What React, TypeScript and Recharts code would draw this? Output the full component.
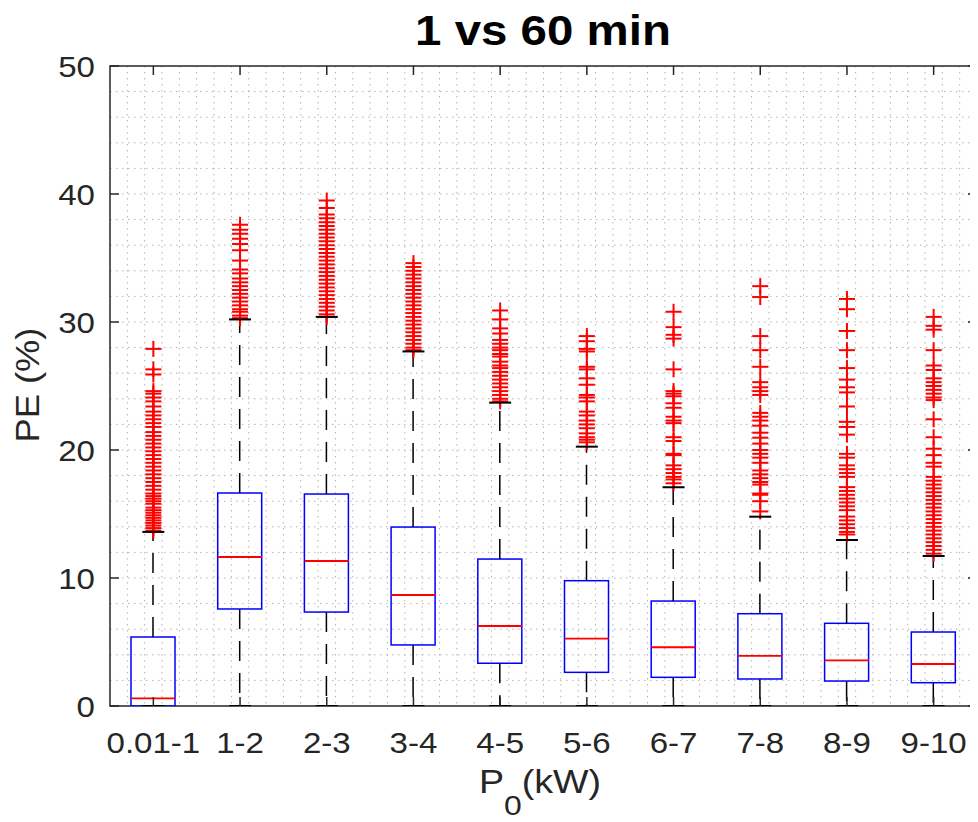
import React from 'react';
import { ComposedChart, Bar, Line, XAxis, YAxis, CartesianGrid, ReferenceArea } from 'recharts';

// ---------- data ----------
const categories = ['0.01-1', '1-2', '2-3', '3-4', '4-5', '5-6', '6-7', '7-8', '8-9', '9-10'];
const lowerWhisker = [0, 0, 0, 0, 0, 0, 0, 0, 0, 0];
const q1 = [0, 7.58, 7.34, 4.77, 3.34, 2.63, 2.24, 2.11, 1.95, 1.82];
const medians = [0.6, 11.64, 11.33, 8.67, 6.25, 5.26, 4.59, 3.91, 3.57, 3.28];
const q3 = [5.39, 16.64, 16.56, 13.98, 11.48, 9.79, 8.2, 7.21, 6.46, 5.78];
const upperWhisker = [13.6, 30.2, 30.4, 27.7, 23.7, 20.26, 17.09, 14.79, 12.97, 11.72];

const outliers01 = [27.9, 26.3, 25.9, 24.6, 24.4, 24.1, 23.8, 23.4, 23.0, 22.7, 22.4, 22.1, 21.8, 21.4, 21.1, 20.8, 20.5, 20.2, 19.9, 19.6, 19.3, 19.0, 18.7, 18.4, 18.1, 17.8, 17.5, 17.2, 16.9, 16.6, 16.4, 16.2, 16.0, 15.8, 15.5, 15.3, 15.1, 14.9, 14.7, 14.5, 14.3, 14.1, 13.9, 13.7];
const outliers12 = [37.6, 37.2, 36.9, 36.5, 36.1, 35.6, 34.8, 34.1, 33.8, 33.4, 33.1, 32.8, 32.5, 32.2, 31.9, 31.6, 31.3, 31.0, 30.8, 30.5, 30.3];
const outliers23 = [39.5, 38.9, 38.4, 38.1, 37.8, 37.5, 37.2, 36.9, 36.6, 36.3, 36.0, 35.7, 35.4, 35.1, 34.8, 34.5, 34.2, 33.9, 33.6, 33.3, 33.0, 32.7, 32.4, 32.1, 31.8, 31.5, 31.2, 30.9, 30.6, 30.4];
const outliers34 = [34.6, 34.3, 34.0, 33.7, 33.4, 33.1, 32.8, 32.5, 32.2, 31.9, 31.6, 31.3, 31.0, 30.7, 30.4, 30.1, 29.8, 29.5, 29.2, 28.9, 28.6, 28.3, 28.0, 27.8];
const outliers45 = [30.9, 30.2, 29.5, 29.1, 28.6, 28.3, 28.0, 27.8, 27.5, 27.3, 26.9, 26.6, 26.4, 26.1, 25.8, 25.5, 25.2, 24.9, 24.6, 24.3, 24.0, 23.8];
const outliers56 = [28.9, 28.5, 27.9, 27.7, 26.5, 26.3, 25.6, 25.1, 24.3, 24.1, 23.8, 23.0, 22.7, 22.3, 22.0, 21.7, 21.3, 21.0, 20.8, 20.6];
const outliers67 = [30.8, 29.6, 29.0, 28.7, 26.3, 24.6, 24.4, 24.2, 23.65, 23.3, 22.6, 22.3, 22.1, 21.0, 20.7, 19.7, 19.6, 18.8, 18.5, 18.2, 17.9, 17.7, 17.4];
const outliers78 = [32.8, 31.95, 28.9, 27.8, 26.5, 25.3, 24.9, 24.6, 24.3, 22.9, 22.6, 22.3, 21.9, 21.35, 20.96, 20.5, 20.0, 19.7, 19.4, 19.0, 18.4, 18.1, 17.8, 17.5, 17.3, 16.6, 16.5, 16.0, 15.2];
const outliers89 = [31.8, 31.0, 29.3, 27.8, 26.4, 25.5, 24.9, 24.5, 23.4, 22.2, 21.8, 21.2, 19.7, 19.4, 18.8, 18.5, 18.2, 17.9, 17.1, 16.8, 16.5, 16.2, 15.9, 15.6, 15.3, 14.8, 14.5, 14.2, 13.9, 13.6, 13.4];
const outliers910 = [30.4, 29.7, 29.4, 27.8, 26.6, 26.25, 25.6, 25.3, 25.0, 24.7, 24.4, 24.1, 23.9, 22.4, 21.0, 20.1, 19.6, 19.0, 18.7, 17.9, 17.6, 17.3, 17.0, 16.7, 16.4, 16.1, 15.8, 15.5, 15.2, 14.9, 14.6, 14.3, 14.0, 13.7, 13.4, 13.1, 12.8, 12.5, 12.2, 11.9];
const outlierGroups = [outliers01, outliers12, outliers23, outliers34, outliers45, outliers56, outliers67, outliers78, outliers89, outliers910];

const yTicks = [0, 10, 20, 30, 40, 50];
const yGridValues = [2, 4, 6, 8, 10, 12, 14, 16, 18, 20, 22, 24, 26, 28, 30, 32, 34, 36, 38, 40, 42, 44, 46, 48];

// ---------- layout constants ----------
const W = 970;
const H = 814;
const PLOT_W = 867;
const PLOT_H = 640;
const FONT = "'Liberation Sans', Arial, Helvetica, sans-serif";
const AX = '#262626';

const maxOut = Math.max(...outlierGroups.map((g) => g.length));
const outKeys = Array.from({ length: maxOut }, (_, k) => 'o' + k);

const data = categories.map((name, i) => {
  const row: any = {
    name,
    lo: lowerWhisker[i],
    base: lowerWhisker[i],
    lowSeg: q1[i] - lowerWhisker[i],
    boxSeg: q3[i] - q1[i],
    highSeg: upperWhisker[i] - q3[i],
    hi: upperWhisker[i],
    med: medians[i],
  };
  outKeys.forEach((k, j) => {
    const v = outlierGroups[i][j];
    row[k] = v === undefined ? null : v;
  });
  return row;
});

// ---------- shapes ----------
const Empty = () => <g />;

const LowWhiskerShape = (p: any) => {
  const { x, y, width, height } = p;
  if (!height || height <= 0) return <g />;
  const cx = x + width / 2;
  return <line x1={cx} x2={cx} y1={y} y2={y + height} stroke="#000" strokeWidth={1.5} strokeDasharray="20 12" />;
};

const HighWhiskerShape = (p: any) => {
  const { x, y, width, height } = p;
  if (!height || height <= 0) return <g />;
  const cx = x + width / 2;
  return <line x1={cx} x2={cx} y1={y + height} y2={y} stroke="#000" strokeWidth={1.5} strokeDasharray="20 12" />;
};

const BoxShape = (p: any) => {
  const { x, y, width, height } = p;
  return <rect x={x} y={y} width={width} height={Math.max(height, 0)} fill="none" stroke="#0000ff" strokeWidth={1.5} />;
};

const PlusDot = (p: any) => {
  const { cx, cy, value } = p;
  if (value == null || cx == null || cy == null || isNaN(cy)) return <g key={p.key} />;
  return (
    <g key={p.key}>
      <line x1={cx - 8} x2={cx + 8} y1={cy} y2={cy} stroke="#ff0000" strokeWidth={2} />
      <line x1={cx} x2={cx} y1={cy - 8} y2={cy + 8} stroke="#ff0000" strokeWidth={2} />
    </g>
  );
};

const CapDot = (p: any) => {
  const { cx, cy } = p;
  if (cx == null || cy == null || isNaN(cy)) return <g key={p.key} />;
  return <line key={p.key} x1={cx - 11} x2={cx + 11} y1={cy} y2={cy} stroke="#000" strokeWidth={2} />;
};

const MedianDot = (p: any) => {
  const { cx, cy } = p;
  if (cx == null || cy == null || isNaN(cy)) return <g key={p.key} />;
  return <line key={p.key} x1={cx - 22} x2={cx + 22} y1={cy} y2={cy} stroke="#ff0000" strokeWidth={1.8} />;
};

// ---------- ticks ----------
const XTick = (p: any) => {
  const { x, y, payload } = p;
  return (
    <g>
      <text transform={`translate(${x},${y + 47}) scale(1.14,1)`} textAnchor="middle" fontSize={29} fill={AX} fontFamily={FONT}>
        {payload.value}
      </text>
      <line x1={x} x2={x} y1={y} y2={y - 9} stroke={AX} strokeWidth={1.5} />
      <line x1={x} x2={x} y1={y - PLOT_H} y2={y - PLOT_H + 9} stroke={AX} strokeWidth={1.5} />
    </g>
  );
};

const YTick = (p: any) => {
  const { x, y, payload } = p;
  return (
    <g>
      <text transform={`translate(${x - 15},${y + 11}) scale(1.14,1)`} textAnchor="end" fontSize={29} fill={AX} fontFamily={FONT}>
        {payload.value}
      </text>
      <line x1={x} x2={x + 9} y1={y} y2={y} stroke={AX} strokeWidth={1.5} />
      <line x1={x + PLOT_W - 9} x2={x + PLOT_W} y1={y} y2={y} stroke={AX} strokeWidth={1.5} />
    </g>
  );
};

const hGen = (props: any) => {
  const { yAxis, offset } = props;
  return yGridValues.map((v) =>
    yAxis && typeof yAxis.scale === 'function' ? yAxis.scale(v) : offset.top + offset.height * (1 - v / 50)
  );
};

const vGen = (props: any) => {
  const { offset } = props;
  const n = categories.length;
  const res: number[] = [];
  for (let k = 1; k < n * 5; k++) {
    res.push(offset.left + ((k - 0.5) / (n * 5)) * offset.width + offset.width / (n * 10));
  }
  return res;
};

export default function App() {
  return (
    <div style={{ position: 'relative', width: W, height: H }}>
      <ComposedChart width={W} height={H} data={data} margin={{ top: 58, right: 1, bottom: 0, left: 0 }} barCategoryGap={0}>
        <CartesianGrid
          horizontalCoordinatesGenerator={hGen}
          verticalCoordinatesGenerator={vGen}
          stroke="#b4b4b4"
          strokeDasharray="1.5 4.5"
        />
        <XAxis
          dataKey="name"
          type="category"
          interval={0}
          height={116}
          tickSize={0}
          tickMargin={0}
          axisLine={false}
          tickLine={false}
          tick={XTick}
        />
        <YAxis
          type="number"
          domain={[0, 50]}
          ticks={yTicks}
          interval={0}
          width={102}
          tickSize={0}
          tickMargin={0}
          axisLine={false}
          tickLine={false}
          tick={YTick}
          allowDataOverflow
        />
        <Bar dataKey="base" stackId="b" barSize={44} shape={Empty} isAnimationActive={false} legendType="none" />
        <Bar dataKey="lowSeg" stackId="b" barSize={44} shape={LowWhiskerShape} isAnimationActive={false} legendType="none" />
        <Bar dataKey="boxSeg" stackId="b" barSize={44} shape={BoxShape} isAnimationActive={false} legendType="none" />
        <Bar dataKey="highSeg" stackId="b" barSize={44} shape={HighWhiskerShape} isAnimationActive={false} legendType="none" />
        {outKeys.map((k) => (
          <Line key={k} dataKey={k} stroke="none" dot={PlusDot} activeDot={false} isAnimationActive={false} legendType="none" />
        ))}
        <Line dataKey="hi" stroke="none" dot={CapDot} activeDot={false} isAnimationActive={false} legendType="none" />
        <Line dataKey="lo" stroke="none" dot={CapDot} activeDot={false} isAnimationActive={false} legendType="none" />
        <Line dataKey="med" stroke="none" dot={MedianDot} activeDot={false} isAnimationActive={false} legendType="none" />
        <ReferenceArea y1={0} y2={50} fill="none" stroke={AX} strokeWidth={1.5} ifOverflow="visible" />
      </ComposedChart>
      <svg width={W} height={H} style={{ position: 'absolute', left: 0, top: 0, pointerEvents: 'none' }}>
        <text transform="translate(535,37) scale(1.13,1)" textAnchor="middle" fontSize={42} fontWeight="bold" fill="#000" fontFamily={FONT}>
          1 vs 60 min
        </text>
        <text transform="translate(31,377) rotate(-90) scale(1.1,1)" textAnchor="middle" fontSize={33} fill={AX} fontFamily={FONT}>
          PE (%)
        </text>
        <text transform="translate(532,785) scale(1.14,1)" textAnchor="middle" fontSize={33} fill={AX} fontFamily={FONT}>
          P<tspan dy={22} fontSize={28}>0</tspan>
          <tspan dy={-22}>(kW)</tspan>
        </text>
      </svg>
    </div>
  );
}
